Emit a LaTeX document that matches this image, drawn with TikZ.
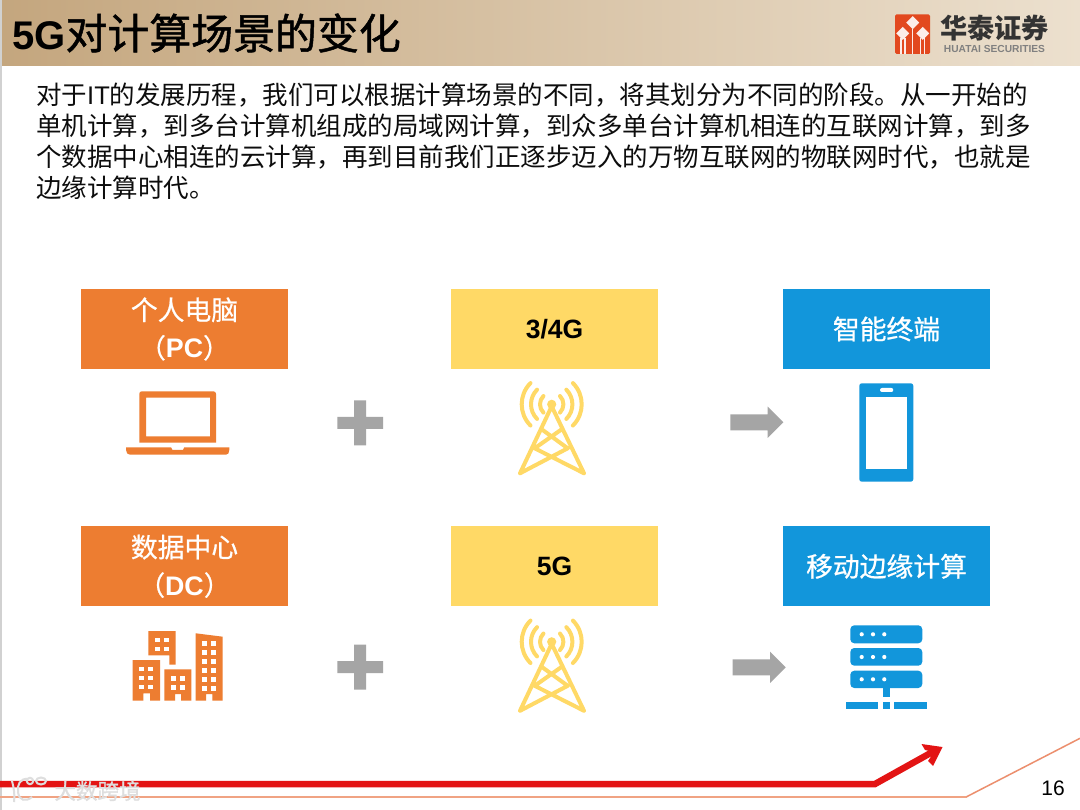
\documentclass[tikz,border=0pt]{standalone}
\usepackage{fontspec}
\setmainfont{Noto Sans CJK SC}
\newfontfamily\latinf{Liberation Sans}
\newfontfamily\medf[FakeBold=0.7]{Noto Sans CJK SC}
\newfontfamily\heavyf[FakeBold=1.2]{Noto Sans CJK SC}
\usetikzlibrary{calc}
\definecolor{orangeb}{HTML}{ED7D31}
\definecolor{yellowb}{HTML}{FFD966}
\definecolor{blueb}{HTML}{1296DB}
\definecolor{greyi}{HTML}{A5A5A5}
\definecolor{redb}{HTML}{E31414}
\definecolor{salmon}{HTML}{F0A383}
\definecolor{salmond}{HTML}{EC8F6E}
\definecolor{htred}{HTML}{E2491F}
\definecolor{headl}{HTML}{C4A67E}
\definecolor{headr}{HTML}{ECE0CE}
\definecolor{wmark}{HTML}{DEDEDE}
\tikzset{
  box/.style={minimum width=207pt,minimum height=80pt,inner sep=0pt,align=center,text=white,
    font=\medf\fontsize{26.8}{38}\selectfont},
  ybox/.style={box,text=black,font=\latinf\fontsize{26.5}{30}\selectfont\bfseries},
  towerline/.style={draw=yellowb,line width=4pt,line cap=round,line join=round},
  pics/tower/.style={code={
    \fill[yellowb] (0,0) circle[radius=4.6pt];
    \draw[towerline] (0,2) -- (-31.7,69) (0,2) -- (32.3,69)
      (-10,25) -- (16,44) (10,25) -- (-17,44)
      (-17,44) -- (32.3,69) (16,44) -- (-31.7,69);
    \foreach \r in {11.7,20.7,30}{
      \draw[towerline] ({-\r*cos(45)},{-\r*sin(45)}) arc[start angle=135,end angle=225,radius=\r pt];
      \draw[towerline] ({\r*cos(45)},{-\r*sin(45)}) arc[start angle=45,end angle=-45,radius=\r pt];
    }
  }},
  pics/plusicon/.style={code={
    \fill[greyi] (-6,-22.5) -- (6,-22.5) -- (6,-6) -- (22.8,-6) -- (22.8,6) -- (6,6) -- (6,22.5)
      -- (-6,22.5) -- (-6,6) -- (-22.8,6) -- (-22.8,-6) -- (-6,-6) -- cycle;
  }},
  pics/arrowicon/.style={code={
    \fill[greyi] (0,-8) -- (37.4,-8) -- (37.4,-15.6) -- (53,0) -- (37.4,15.6) -- (37.4,8) -- (0,8) -- cycle;
  }},
}
\begin{document}
\begin{tikzpicture}[x=1pt,y=-1pt]
\useasboundingbox (0,0) rectangle (1080,810);
\fill[white] (0,0) rectangle (1080,810);
% header
\shade[left color=headl,right color=headr] (0,0) rectangle (1080,66);
\draw[black!18,line width=1.5pt] (0.75,0) -- (0.75,810);
\node[anchor=west,inner sep=0pt,font=\fontsize{41.9}{44}\selectfont] (title) at (12,33) {{\latinf\bfseries\fontsize{40}{44}\selectfont 5G}{\heavyf 对计算场景的变化}};
% huatai logo
\fill[htred,rounded corners=1.5pt] (895,14.3) rectangle (930,54);
\foreach \cx/\cy/\s in {912.7/22.7/6.5,902.7/33.3/6.5,922.7/33.3/6.5}
  \fill[white!90!htred] (\cx,\cy-\s) -- (\cx+\s,\cy) -- (\cx,\cy+\s) -- (\cx-\s,\cy) -- cycle;
\foreach \sx/\sy in {901/38,905/38,912.7/29,920.4/38,924.4/38}
  \fill[white!90!htred] (\sx-0.7,\sy) rectangle (\sx+0.7,54);
\node[inner sep=0pt,text=black!80,font=\fontsize{27.2}{28}\selectfont\bfseries] (htcn) at (994.5,28) {华泰证券};
\node[inner sep=0pt,text=black!50,font=\latinf\fontsize{10.2}{12}\selectfont\bfseries] (hten) at (994.5,49) {HUATAI SECURITIES};
% body text
\node[anchor=north west,inner sep=0pt,align=left,text=black!95,font=\fontsize{25.5}{31}\selectfont] (body) at (36,83) {对于{\latinf IT}的发展历程，我们可以根据计算场景的不同，将其划分为不同的阶段。从一开始的\\
单机计算，到多台计算机组成的局域网计算，到众多单台计算机相连的互联网计算，到多\\
个数据中心相连的云计算，再到目前我们正逐步迈入的万物互联网的物联网时代，也就是\\
边缘计算时代。};
% boxes
\node[box,fill=orangeb] (pc) at (184.5,329) {个人电脑\\（{\latinf\bfseries PC}）};
\node[ybox,fill=yellowb] (g4) at (554.5,329) {3/4G};
\node[box,fill=blueb] (smart) at (886.5,329) {智能终端};
\node[box,fill=orangeb] (dc) at (184.5,566.3) {数据中心\\（{\latinf\bfseries DC}）};
\node[ybox,fill=yellowb] (g5) at (554.5,566.3) {5G};
\node[box,fill=blueb] (mec) at (886.5,566.3) {移动边缘计算};
% laptop
\fill[orangeb,even odd rule,rounded corners=0pt]
  (139.3,442.7) -- (139.3,394) [rounded corners=2.5pt] -- (139.3,391.3) -- (216,391.3) [rounded corners=0pt] -- (216,442.7) -- cycle
  (146,397.7) rectangle (210,436.3);
\fill[orangeb] (126,447.3) -- (171,447.3) -- (172.5,450) -- (183,450) -- (184.3,447.3) -- (229.3,447.3)
  -- (229.3,450) .. controls (229.3,453) and (228,454.7) .. (226,454.7) -- (130,454.7)
  .. controls (128,454.7) and (126,453) .. (126,450) -- cycle;
% plus, towers, arrows
\pic at (360.2,423) {plusicon};
\pic at (360.2,667) {plusicon};
\pic at (551.7,404.3) {tower};
\pic at (551.7,641.8) {tower};
\pic at (730.3,422.3) {arrowicon};
\pic at (732.7,667.3) {arrowicon};
% phone
\fill[blueb,rounded corners=2.5pt] (859.3,383.3) rectangle (913.3,481.7);
\fill[white] (866.3,396.7) rectangle (906.7,468.7);
\fill[white,rounded corners=2pt] (880,388) rectangle (893.3,392);
% buildings
\fill[orangeb] (148.3,631) -- (175.7,631) -- (175.7,664.7) -- (169.3,664.7) -- (169.3,655.3) -- (148.3,655.3) -- cycle;
\fill[orangeb] (132.7,660) -- (160,660) -- (160,700.7) -- (150,700.7) -- (150,693.3) -- (143.3,693.3) -- (143.3,700.7) -- (132.7,700.7) -- cycle;
\fill[orangeb] (164.3,669.3) -- (191.3,669.3) -- (191.3,700.7) -- (181,700.7) -- (181,694) -- (175,694) -- (175,700.7) -- (164.3,700.7) -- cycle;
\fill[orangeb] (195.7,633.3) -- (222.7,636.7) -- (222.7,700.7) -- (212.3,700.7) -- (212.3,694) -- (206,694) -- (206,700.7) -- (195.7,700.7) -- cycle;
\foreach \wx in {155.3,164.3}\foreach \wy in {637.7,646.7}\fill[white] (\wx,\wy) rectangle +(4.7,4.7);
\foreach \wx in {139.3,148.3}\foreach \wy in {666.7,675.7,684.7}\fill[white] (\wx,\wy) rectangle +(4.7,4.7);
\foreach \wx in {171,180}\foreach \wy in {676,685}\fill[white] (\wx,\wy) rectangle +(4.7,4.7);
\foreach \wx in {202.3,211.3}\foreach \wy in {641,650,659,668,677,686}\fill[white] (\wx,\wy) rectangle +(4.7,4.7);
% server
\foreach \ya/\yb/\yd in {625.3/643.3/634.3,648/665.7/657,670.7/688/679.3}{
  \fill[blueb,rounded corners=4pt] (850.3,\ya) rectangle (922.3,\yb);
  \foreach \dx in {861.7,873,884.3}\fill[white] (\dx,\yd) circle[radius=2.1pt];
}
\fill[blueb] (883.3,688) rectangle (890,697.3);
\fill[blueb] (846,702.3) rectangle (878.3,709);
\fill[blueb] (883.3,702.3) rectangle (890,709);
\fill[blueb] (894.3,702.3) rectangle (927,709);
% bottom lines
\coordinate (thinA) at (0,796.7);
\coordinate (thinB) at (966.7,796.7);
\coordinate (thinC) at (1080,738.3);
\coordinate (redA) at (0,784);
\coordinate (redB) at (875,784);
\coordinate (redC) at (936,750);
\draw[salmon,line width=2pt] (thinA) -- (thinB);
\draw[salmond,line width=1.5pt] (thinB) -- (thinC);
\draw[redb,line width=6.5pt,line join=miter] (redA) -- (redB) -- (redC);
\fill[redb] (921.5,744) -- (942.5,747) -- (933,766) -- (928,761) -- (934,752) -- (925,750) -- cycle;
% page number
\node[inner sep=0pt,font=\latinf\fontsize{21}{24}\selectfont] (pageno) at (1053,788) {16};
% watermark
\begin{scope}[draw=wmark,line width=2pt]
\draw (12,781) .. controls (14,788) and (15,796) .. (14,802);
\draw (28,779) .. controls (20,778) and (17,785) .. (18,792) .. controls (19,801) and (26,802) .. (32,797);
\draw (30,781) circle[radius=3.2pt];
\draw (41,781) ellipse[x radius=5pt,y radius=3.5pt];
\end{scope}
\node[inner sep=0pt,text=wmark,font=\heavyf\fontsize{21.5}{24}\selectfont] (wm) at (97.5,791) {大数跨境};
\end{tikzpicture}
\end{document}
